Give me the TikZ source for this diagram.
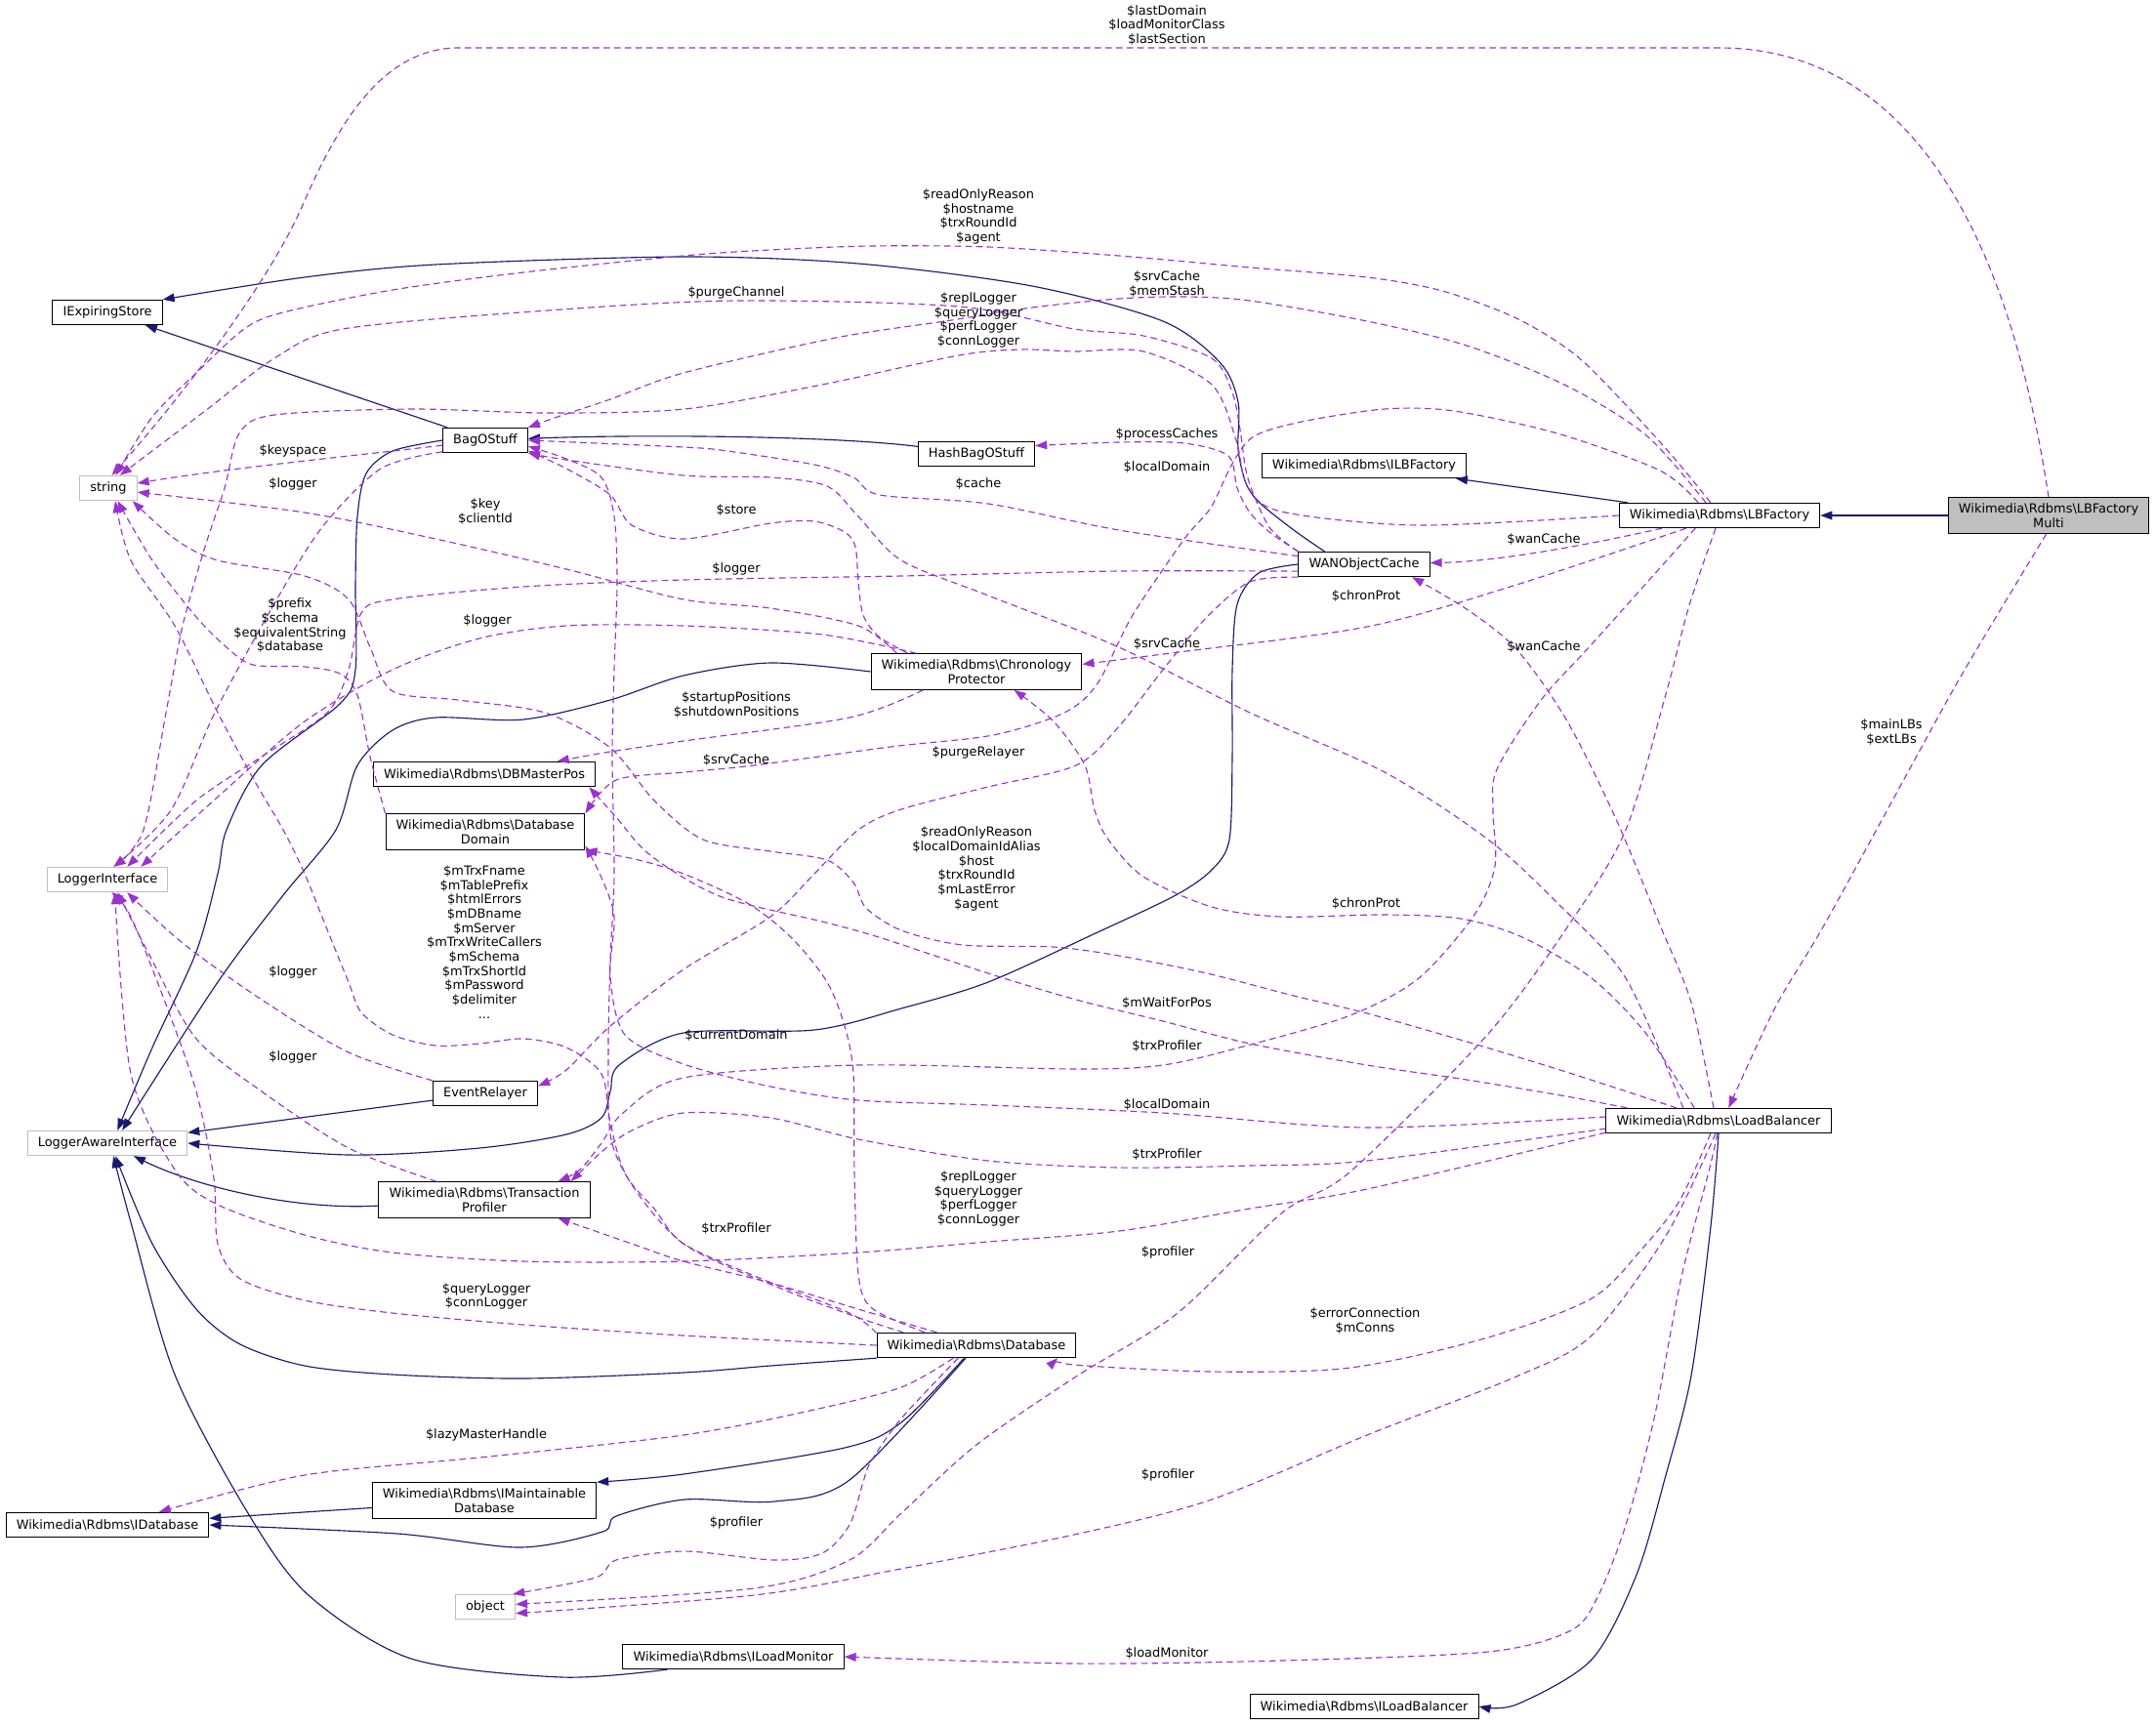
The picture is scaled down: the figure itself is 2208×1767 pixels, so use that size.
\documentclass[tikz,border=0pt]{standalone}
\usepackage{fontspec}
\setmainfont{DejaVu Sans}
\usetikzlibrary{arrows.meta}

\newcommand{\dxfont}{\fontsize{9.7}{11}\selectfont}
\newcommand{\bs}{\textbackslash{}}

\begin{document}
\begin{tikzpicture}[x=0.75pt, y=-0.75pt, every node/.style={font=\dxfont}]

% ---------------------------------------------------------------- colours
\definecolor{navy}{HTML}{191970}     % inheritance
\definecolor{orchid}{HTML}{9A32CD}   % usage / member
\definecolor{grey75}{HTML}{BFBFBF}   % undocumented classes

\tikzset{
    cls/.style={rectangle, draw=black, line width=0.75pt, fill=white,
                inner xsep=8pt, inner ysep=4.5pt, minimum height=19pt, align=center},
    ext/.style={cls, draw=grey75},
    focus/.style={cls, fill=grey75},
    inh/.style={navy, line width=0.85pt, -{Triangle[length=9pt, width=6.5pt]}},
    use/.style={orchid, line width=0.85pt, dash pattern=on 5pt off 3.2pt,
                -{Triangle[length=9pt, width=6.5pt]}},
    lbl/.style={align=center, inner sep=0pt},
}

\fill[white] (0,0) rectangle (2208,1767);
\useasboundingbox (0,0) rectangle (2208,1767);

% ---------------------------------------------------------------- classes
\node[cls]   (iexp)   at (110,320)  {IExpiringStore};
\node[ext]   (str)    at (111,500)  {string};
\node[ext]   (logi)   at (110,901)  {LoggerInterface};
\node[ext]   (lai)    at (110,1171) {LoggerAwareInterface};
\node[cls]   (idb)    at (110,1562) {Wikimedia\bs Rdbms\bs IDatabase};

\node[cls]   (bag)    at (497,451)  {BagOStuff};
\node[cls]   (dbmp)   at (496,793)  {Wikimedia\bs Rdbms\bs DBMasterPos};
\node[cls]   (ddom)   at (497,852)  {Wikimedia\bs Rdbms\bs Database\\Domain};
\node[cls]   (er)     at (497,1120) {EventRelayer};
\node[cls]   (tp)     at (496,1229) {Wikimedia\bs Rdbms\bs Transaction\\Profiler};
\node[cls]   (imd)    at (496,1537) {Wikimedia\bs Rdbms\bs IMaintainable\\Database};
\node[ext]   (obj)    at (497,1646) {object};
\node[cls]   (ilm)    at (751,1697) {Wikimedia\bs Rdbms\bs ILoadMonitor};

\node[cls]   (hash)   at (1000,465) {HashBagOStuff};
\node[cls]   (chrono) at (1000,688) {Wikimedia\bs Rdbms\bs Chronology\\Protector};
\node[cls]   (db)     at (1000,1378) {Wikimedia\bs Rdbms\bs Database};

\node[cls]   (ilbf)   at (1397,477) {Wikimedia\bs Rdbms\bs ILBFactory};
\node[cls]   (wan)    at (1397,578) {WANObjectCache};
\node[cls]   (ilb)    at (1397,1748) {Wikimedia\bs Rdbms\bs ILoadBalancer};

\node[cls]   (lbf)    at (1761,528) {Wikimedia\bs Rdbms\bs LBFactory};
\node[cls]   (lb)     at (1760,1148) {Wikimedia\bs Rdbms\bs LoadBalancer};
\node[focus] (lbfm)   at (2098,528) {Wikimedia\bs Rdbms\bs LBFactory\\Multi};

% ---------------------------------------------------------------- inheritance
\draw[inh] (lbfm) -- (lbf);
\draw[inh] (lbf) -- (ilbf);
\draw[inh] (bag) -- (iexp);
\draw[inh] (hash) .. controls (850,446) and (650,445) .. (bag);
\draw[inh] (er) -- (lai);
\draw[inh] (imd) -- (idb);
\draw[inh] (tp) .. controls (300,1240) and (200,1215) .. (lai);
\draw[inh] plot[smooth] coordinates {(wan.162) (1325,543) (1290,515) (1276,495)
    (1268,460) (1268,412) (1250,372) (1191,329) (1057,293) (879,270) (700,263)
    (446,271) (312,284) (iexp.north east)};
\draw[inh] plot[smooth] coordinates {(bag.west) (402,462) (375,485) (366,529)
    (364,600) (364,686) (348,721) (268,784) (232,850) (223,895) (201,975)
    (156,1073) (lai.52)};
\draw[inh] plot[smooth] coordinates {(chrono.west) (789,679) (700,692) (625,717)
    (536,737) (446,735) (402,748) (366,784) (344,850) (290,917) (223,1006) (lai.41)};
\draw[inh] plot[smooth] coordinates {(wan.west) (1289,587) (1267,619) (1262,686)
    (1262,775) (1259,860) (1241,891) (1204,917) (1124,955) (1012,1006) (923,1033)
    (834,1055) (700,1058) (634,1091) (625,1118) (616,1145) (580,1162) (491,1176)
    (357,1183) (lai.east)};
\draw[inh] plot[smooth] coordinates {(db.south west) (789,1399) (700,1406)
    (536,1412) (402,1408) (312,1399) (246,1377) (201,1341) (156,1274) (lai.-58)};
\draw[inh] plot[smooth] coordinates {(ilm.191) (575,1718) (421,1699) (316,1634)
    (254,1550) (179,1408) (134,1252) (lai.-65)};
\draw[inh] plot[smooth] coordinates {(db.-134) (923,1457) (865,1483) (700,1510)
    (imd.north east)};
\draw[inh] plot[smooth] coordinates {(db.-130) (870,1516) (793,1538) (701,1536)
    (631,1553) (617,1569) (533,1585) (407,1571) (idb.east)};
\draw[inh] plot[smooth] coordinates {(lb.south) (1752,1256) (1732,1409)
    (1706,1511) (1676,1613) (1630,1700) (1553,1746) (ilb.east)};

% ---------------------------------------------------------------- members: LBFactoryMulti, LBFactory
\draw[use] (lbfm.north) .. controls (2075,360) and (2010,49) .. (1760,49)
    -- (470,49) .. controls (390,49) and (345,130) .. (310,210)
    .. controls (280,280) and (200,390) .. (str.75);
\draw[use] plot[smooth] coordinates {(lbfm.-97) (2012,686) (1961,778) (1869,946)
    (1818,1032) (lb.52)};
\draw[use] plot[smooth] coordinates {(lbf.125) (1716,471) (1670,420) (1614,364)
    (1553,326) (1477,298) (1400,284) (1280,274) (1146,262) (1012,253) (892,252)
    (789,256) (700,262) (536,279) (402,297) (290,320) (250,337) (201,382)
    (156,427) (str.60)};
\draw[use] plot[smooth] coordinates {(lbf.137) (1686,446) (1604,395) (1502,354)
    (1400,329) (1280,308) (1213,304) (1146,306) (1057,315) (968,329) (856,346)
    (700,382) (625,409) (571,427) (bag.north east)};
\draw[use] plot[smooth] coordinates {(lbf.west) (1453,538) (1312,524) (1277,497)
    (1266,451) (1241,394) (1171,360) (1100,360) (1045,358) (982,364) (842,394)
    (701,419) (561,423) (421,419) (281,425) (245,444) (230,500) (210,560)
    (187,641) (170,730) (147,850) (logi.64)};
\draw[use] (lbf) .. controls (1640,555) and (1540,575) .. (wan);
\draw[use] plot[smooth] coordinates {(lbf.-159) (1553,599) (1400,642) (1199,669)
    (chrono.4)};
\draw[use] plot[smooth] coordinates {(lbf.149) (1700,482) (1595,444) (1489,421)
    (1418,419) (1333,432) (1284,447) (1262,475) (1240,520) (1213,552) (1160,630)
    (1124,700) (1090,730) (1017,753) (912,765) (772,784) (701,791) (631,799)
    (ddom.north east)};
\draw[use] plot[smooth] coordinates {(lbf.-152) (1630,660) (1579,716) (1533,788)
    (1529,830) (1531,887) (1510,937) (1453,1002) (1383,1040) (1277,1071)
    (1191,1091) (1102,1095) (879,1091) (700,1104) (638,1140) (616,1171)
    (594,1198) (tp.14)};
\draw[use] plot[smooth] coordinates {(lbf.-107) (1730,620) (1706,711) (1665,850)
    (1609,944) (1524,1059) (1383,1200) (1312,1243) (1206,1345) (1102,1410)
    (1000,1480) (923,1550) (870,1598) (772,1627) (obj.5)};

% ---------------------------------------------------------------- members: WANObjectCache
\draw[use] plot[smooth] coordinates {(wan.north west) (1300,540) (1278,490)
    (1270,440) (1262,402) (1241,367) (1171,344) (1100,337) (982,314) (754,308)
    (561,318) (351,337) (281,367) (210,421) (str.48)};
\draw[use] plot[smooth] coordinates {(wan.173) (1146,543) (1012,516) (901,507)
    (874,489) (834,476) (745,462) (700,458) (bag.east)};
\draw[use] plot[smooth] coordinates {(wan.186) (1146,585) (923,590) (700,594)
    (536,601) (402,614) (370,628) (357,686) (335,730) (268,775) (201,820) (logi.33)};
\draw[use] plot[smooth] coordinates {(wan.169) (1300,545) (1280,525) (1267,500)
    (1258,467) (1213,454) (1146,453) (hash.8)};
\draw[use] plot[smooth] coordinates {(wan.191) (1280,596) (1236,632) (1191,686)
    (1146,744) (1102,784) (1012,806) (923,829) (879,850) (834,895) (789,939)
    (700,993) (625,1051) (580,1096) (er.8)};

% ---------------------------------------------------------------- members: ChronologyProtector, BagOStuff
\draw[use] plot[smooth] coordinates {(chrono.165) (900,652) (884,630) (879,596)
    (876,560) (865,545) (834,534) (789,536) (700,552) (647,538) (625,507)
    (580,480) (bag.-14)};
\draw[use] plot[smooth] coordinates {(chrono.167) (879,641) (789,623) (700,614)
    (580,583) (446,552) (312,525) (str.-8)};
\draw[use] plot[smooth] coordinates {(chrono.163) (842,650) (700,641) (580,641)
    (491,654) (402,686) (312,739) (230,810) (logi.21)};
\draw[use] plot[smooth] coordinates {(chrono.-161) (870,735) (700,759) (625,770)
    (dbmp.10)};
\draw[use] (bag) .. controls (370,466) and (230,480) .. (str);
\draw[use] plot[smooth] coordinates {(bag.195) (390,480) (330,540) (280,620)
    (220,730) (175,830) (logi.64)};

% ---------------------------------------------------------------- members: small classes
\draw[use] plot[smooth] coordinates {(ddom.north west) (379,775) (366,712)
    (348,690) (312,683) (259,681) (232,663) (201,632) (156,574) (str.-54)};
\draw[use] plot[smooth] coordinates {(er.north west) (357,1078) (268,1024)
    (187,966) (logi.-33)};
\draw[use] plot[smooth] coordinates {(tp.159) (357,1176) (268,1118) (201,1064)
    (156,984) (logi.-51)};

% ---------------------------------------------------------------- members: Database
\draw[use] plot[smooth] coordinates {(db.170) (880,1350) (800,1320) (700,1274)
    (643,1207) (625,1150) (616,1100) (580,1073) (536,1064) (491,1069) (446,1071)
    (402,1060) (370,1037) (357,1006) (339,962) (312,895) (290,850) (259,797)
    (223,730) (179,641) (134,574) (str.-62)};
\draw[use] plot[smooth] coordinates {(db.166) (893,1340) (879,1305) (875,1200)
    (874,1100) (865,1051) (847,1006) (812,962) (767,926) (700,895) (650,880)
    (ddom.south east)};
\draw[use] plot[smooth] coordinates {(db.162) (879,1341) (789,1314) (700,1292)
    (647,1274) (tp.-14)};
\draw[use] plot[smooth] coordinates {(db.west) (700,1368) (536,1357) (402,1345)
    (312,1332) (246,1310) (223,1274) (219,1207) (201,1118) (170,1029) (134,939)
    (logi.-72)};
\draw[use] plot[smooth] coordinates {(db.-151) (923,1421) (834,1444) (700,1470)
    (491,1493) (312,1511) (idb.14)};
\draw[use] plot[smooth] coordinates {(db.-145) (923,1453) (892,1497) (884,1518)
    (870,1562) (842,1591) (793,1598) (701,1589) (631,1598) (610,1616) (obj.25)};
\draw[use] plot[smooth] coordinates {(db.173) (870,1345) (780,1310) (700,1274)
    (670,1238) (643,1207) (625,1162) (623,1073) (625,984) (629,895) (627,775)
    (629,686) (632,596) (629,529) (616,489) (580,470) (bag.-8)};

% ---------------------------------------------------------------- members: LoadBalancer
\draw[use] plot[smooth] coordinates {(lb.163) (1604,1098) (1502,1067) (1400,1038)
    (1325,1020) (1236,997) (1146,979) (1079,970) (986,968) (923,953) (887,930)
    (874,904) (847,881) (789,872) (720,860) (670,820) (625,766) (558,730)
    (469,717) (402,708) (379,663) (357,614) (312,590) (223,574) (179,552) (str.-28)};
\draw[use] plot[smooth] coordinates {(lb.111) (1732,1027) (1701,950) (1655,839)
    (1604,737) (1553,665) (1502,624) (wan.-15)};
\draw[use] plot[smooth] coordinates {(lb.160) (1665,1002) (1595,925) (1524,860)
    (1418,791) (1280,730) (1146,663) (1012,610) (923,574) (879,529) (847,498)
    (789,489) (700,487) (580,471) (bag.south east)};
\draw[use] plot[smooth] coordinates {(lb.152) (1686,1059) (1630,1002) (1559,960)
    (1496,941) (1418,937) (1312,939) (1241,929) (1171,898) (1135,860) (1121,830)
    (1111,784) (1079,739) (chrono.-26)};
\draw[use] plot[smooth] coordinates {(lb.172) (1604,1123) (1502,1106) (1400,1091)
    (1280,1069) (1191,1046) (1102,1024) (1012,997) (900,960) (842,944) (737,918)
    (666,876) (631,837) (dbmp.-7)};
\draw[use] plot[smooth] coordinates {(lb.178) (1400,1155) (1191,1140) (1012,1132)
    (879,1127) (789,1113) (700,1090) (640,1060) (625,1000) (629,939) (616,899)
    (ddom.-8)};
\draw[use] plot[smooth] coordinates {(lb.184) (1400,1189) (1280,1194) (1146,1196)
    (1012,1189) (879,1167) (789,1145) (700,1140) (647,1158) (616,1180) (tp.12)};
\draw[use] plot[smooth] coordinates {(lb.-174) (1400,1218) (1280,1238) (1146,1261)
    (1012,1272) (879,1283) (700,1292) (536,1292) (402,1283) (312,1265) (223,1234)
    (179,1198) (134,1100) (logi.-60)};
\draw[use] plot[smooth] coordinates {(lb.-122) (1720,1230) (1681,1280) (1630,1330)
    (1524,1370) (1383,1401) (1241,1405) (1100,1398) (db.-9.5)};
\draw[use] plot[smooth] coordinates {(lb.-103) (1706,1266) (1630,1368) (1553,1410)
    (1400,1470) (1241,1536) (1100,1572) (912,1609) (772,1634) (obj.-12)};
\draw[use] plot[smooth] coordinates {(lb.-95) (1750,1200) (1722,1308) (1694,1453)
    (1665,1562) (1637,1634) (1609,1670) (1524,1692) (1312,1701) (1100,1704)
    (ilm.east)};

% ---------------------------------------------------------------- edge labels
\node[lbl] (lLastDomain)  at (1195,26)  {\$lastDomain\\\$loadMonitorClass\\\$lastSection};
\node[lbl] (lFactStr)     at (1002,222) {\$readOnlyReason\\\$hostname\\\$trxRoundId\\\$agent};
\node[lbl] (lMemStash)    at (1195,291) {\$srvCache\\\$memStash};
\node[lbl] (lPurgeChan)   at (754,300)  {\$purgeChannel};
\node[lbl] (lFactLog)     at (1002,328) {\$replLogger\\\$queryLogger\\\$perfLogger\\\$connLogger};
\node[lbl] (lProcCache)   at (1195,445) {\$processCaches};
\node[lbl] (lFactDom)     at (1195,479) {\$localDomain};
\node[lbl] (lCache)       at (1002,496) {\$cache};
\node[lbl] (lStore)       at (754,523)  {\$store};
\node[lbl] (lWanLog)      at (754,583)  {\$logger};
\node[lbl] (lLbSrv)       at (1195,660) {\$srvCache};
\node[lbl] (lPositions)   at (754,722)  {\$startupPositions\\\$shutdownPositions};
\node[lbl] (lDbSrv)       at (754,779)  {\$srvCache};
\node[lbl] (lRelayer)     at (1002,771) {\$purgeRelayer};
\node[lbl] (lKeyspace)    at (300,462)  {\$keyspace};
\node[lbl] (lBagLog)      at (300,496)  {\$logger};
\node[lbl] (lKey)         at (497,524)  {\$key\\\$clientId};
\node[lbl] (lPrefix)      at (297,641)  {\$prefix\\\$schema\\\$equivalentString\\\$database};
\node[lbl] (lChronLog)    at (499,636)  {\$logger};
\node[lbl] (lFactWan)     at (1581,553) {\$wanCache};
\node[lbl] (lFactChron)   at (1399,611) {\$chronProt};
\node[lbl] (lLbWan)       at (1581,663) {\$wanCache};
\node[lbl] (lMainLBs)     at (1937,750) {\$mainLBs\\\$extLBs};
\node[lbl] (lLbStr)       at (1000,890) {\$readOnlyReason\\\$localDomainIdAlias\\\$host\\\$trxRoundId\\\$mLastError\\\$agent};
\node[lbl] (lDbStr)       at (496,965)  {\$mTrxFname\\\$mTablePrefix\\\$htmlErrors\\\$mDBname\\\$mServer\\\$mTrxWriteCallers\\\$mSchema\\\$mTrxShortId\\\$mPassword\\\$delimiter\\...};
\node[lbl] (lErLog)       at (300,996)  {\$logger};
\node[lbl] (lTpLog)       at (300,1083) {\$logger};
\node[lbl] (lLbChron)     at (1399,926) {\$chronProt};
\node[lbl] (lCurDom)      at (754,1061) {\$currentDomain};
\node[lbl] (lWaitPos)     at (1195,1028) {\$mWaitForPos};
\node[lbl] (lFactTrx)     at (1195,1072) {\$trxProfiler};
\node[lbl] (lLbDom)       at (1195,1132) {\$localDomain};
\node[lbl] (lLbTrx)       at (1195,1183) {\$trxProfiler};
\node[lbl] (lLbLog)       at (1002,1228) {\$replLogger\\\$queryLogger\\\$perfLogger\\\$connLogger};
\node[lbl] (lDbTrx)       at (754,1259) {\$trxProfiler};
\node[lbl] (lFactProf)    at (1196,1283) {\$profiler};
\node[lbl] (lDbLog)       at (498,1328) {\$queryLogger\\\$connLogger};
\node[lbl] (lConns)       at (1398,1353) {\$errorConnection\\\$mConns};
\node[lbl] (lLazy)        at (498,1470) {\$lazyMasterHandle};
\node[lbl] (lLbProf)      at (1196,1511) {\$profiler};
\node[lbl] (lDbProf)      at (754,1560) {\$profiler};
\node[lbl] (lLoadMon)     at (1195,1694) {\$loadMonitor};

\end{tikzpicture}
\end{document}
